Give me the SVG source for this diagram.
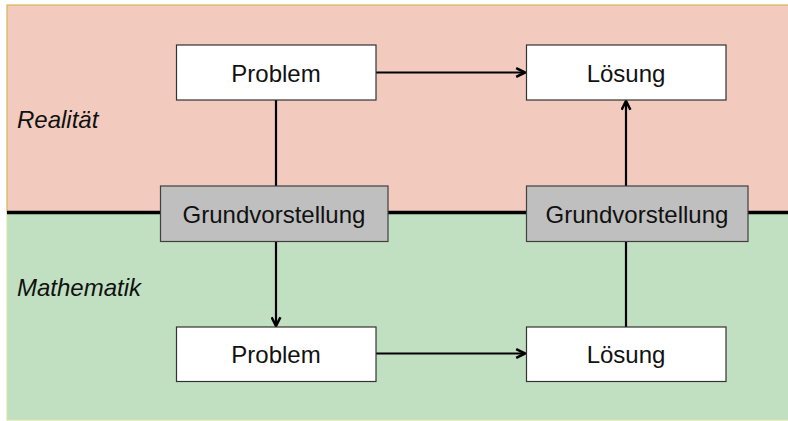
<svg xmlns="http://www.w3.org/2000/svg" width="788" height="421" viewBox="0 0 788 421">
<defs>
<style>
.box{fill:#ffffff;stroke:#333333;stroke-width:1.2}
.gv{fill:#bfbfbf;stroke:#404040;stroke-width:1.2}
.t{font-family:"Liberation Sans",Arial,sans-serif;font-size:24px;fill:#111111;text-anchor:middle}
.lab{font-family:"Liberation Sans",Arial,sans-serif;font-size:24px;font-style:italic;fill:#111111}
.c{stroke:#000000;stroke-width:2.2;fill:none}
</style>
<marker id="arr" viewBox="0 0 10 10" refX="9" refY="5" markerWidth="5" markerHeight="5" orient="auto" markerUnits="strokeWidth">
<path d="M1,1 L9,5 L1,9" fill="none" stroke="#000000" stroke-width="2.3"/>
</marker>
</defs>
<g id="background">
<rect x="7" y="5" width="790" height="208" fill="#f2cbbe" stroke="#d6b656" stroke-width="1.2"/>
<rect x="7" y="213" width="790" height="207" fill="#c1dfc1" stroke="#d8e6a8" stroke-width="1.2"/>
<line x1="7" y1="212.5" x2="788" y2="212.5" stroke="#000000" stroke-width="3.5"/>
<text class="lab" x="17" y="128">Realität</text>
<text class="lab" x="17" y="296">Mathematik</text>
</g>
<g id="connectors">
<line class="c" x1="276" y1="100" x2="276" y2="186"/>
<line class="c" x1="376" y1="72.5" x2="525" y2="72.5" marker-end="url(#arr)"/>
<line class="c" x1="626" y1="186" x2="626" y2="101" marker-end="url(#arr)"/>
<line class="c" x1="276" y1="242" x2="276" y2="326" marker-end="url(#arr)"/>
<line class="c" x1="626" y1="327" x2="626" y2="242"/>
<line class="c" x1="376" y1="353.5" x2="525" y2="353.5" marker-end="url(#arr)"/>
</g>
<g id="problem-real">
<rect class="box" x="176.5" y="45" width="199.5" height="55"/>
<text class="t" x="276" y="81.5">Problem</text>
</g>
<g id="loesung-real">
<rect class="box" x="526.5" y="45" width="199.5" height="55"/>
<text class="t" x="626" y="81.5">Lösung</text>
</g>
<g id="gv-left">
<rect class="gv" x="160.5" y="186" width="227.5" height="55.5"/>
<text class="t" x="274" y="222.5">Grundvorstellung</text>
</g>
<g id="gv-right">
<rect class="gv" x="526.5" y="186" width="221.5" height="55.5"/>
<text class="t" x="637" y="222.5">Grundvorstellung</text>
</g>
<g id="problem-math">
<rect class="box" x="176.5" y="327" width="199.5" height="54.5"/>
<text class="t" x="276" y="363">Problem</text>
</g>
<g id="loesung-math">
<rect class="box" x="526.5" y="327" width="199.5" height="54.5"/>
<text class="t" x="626" y="363">Lösung</text>
</g>
</svg>
